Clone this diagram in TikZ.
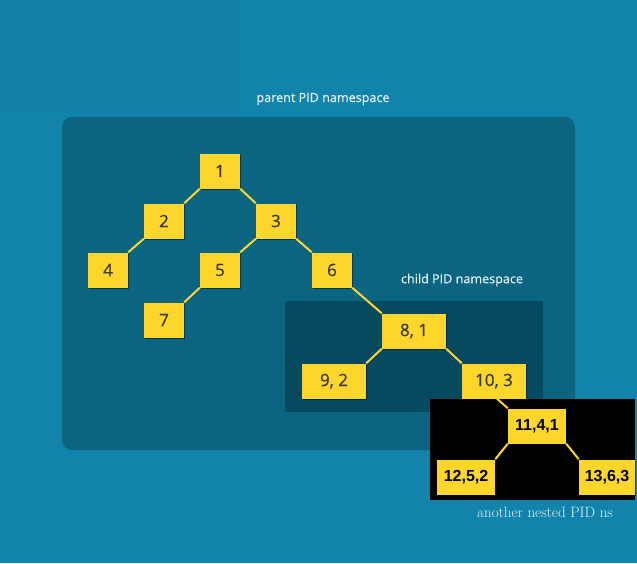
\documentclass[tikz,border=0pt]{standalone}
\usepackage{fontspec}
\usepackage{tikz}
\usetikzlibrary{calc}
\usetikzlibrary{shadows}

\newfontfamily\boxfont{Open Sans}[FakeBold=0.6]
\newfontfamily\labelfont{Open Sans}[FakeBold=0.3]
\newfontfamily\nsfont{Liberation Sans}

\definecolor{bgteal}{HTML}{1283AB}
\definecolor{bgpatch}{HTML}{1281A8}
\definecolor{outerns}{HTML}{0B6480}
\definecolor{childns}{HTML}{074A60}
\definecolor{pidyellow}{HTML}{FDD62B}
\definecolor{pidtext}{HTML}{3A3A3A}
\definecolor{labelwhite}{HTML}{E6F2F6}

\begin{document}
\begin{tikzpicture}[x=1pt,y=-1pt,inner sep=0pt,
  pid/.style={fill=pidyellow,minimum width=40pt,minimum height=35pt,text=pidtext,
    font=\boxfont\fontsize{17}{17}\selectfont,
    drop shadow={shadow xshift=1pt,shadow yshift=-1.5pt,opacity=.45,fill=black}},
  widepid/.style={pid,minimum width=64pt},
  nestpid/.style={pid,minimum width=58pt,text=black,font=\nsfont\bfseries\fontsize{16}{16}\selectfont},
  link/.style={draw=pidyellow,line width=2pt},
  nslabel/.style={text=labelwhite,font=\labelfont\fontsize{12.6}{12.6}\selectfont}]
\useasboundingbox (0,0) rectangle (637,563);
% namespaces
\fill[bgteal] (0,0) rectangle (637,563);
\fill[bgpatch] (0,0) rectangle (242,114);
\fill[outerns,rounded corners=10pt] (62,117) rectangle (575,450);
\fill[childns] (285,301) rectangle (543,412);
\fill[black] (430,399) rectangle (635,500);
\draw node [nslabel] (parentlbl) at (323,99) {parent PID namespace};
\draw node [nslabel] (childlbl) at (462,280) {child PID namespace};
\draw node [text=labelwhite,font=\fontsize{15}{15}\selectfont] (nestlbl) at (545,512) {another nested PID ns};
% parent tree
\draw node [pid] (n1) at (220,171) {1};
\draw node [pid] (n2) at (164,221) {2};
\draw node [pid] (n3) at (276,221) {3};
\draw node [pid] (n4) at (108,270) {4};
\draw node [pid] (n5) at (220,270) {5};
\draw node [pid] (n6) at (332,270) {6};
\draw node [pid] (n7) at (164,320) {7};
% child tree
\draw node [widepid] (n81) at (414,331) {8, 1};
\draw node [widepid] (n92) at (334,381) {9, 2};
\draw node [widepid] (n103) at (494,381) {10, 3};
% nested tree
\draw node [nestpid] (n1141) at (537,426) {11,4,1};
\draw node [nestpid] (n1252) at (466,477) {12,5,2};
\draw node [nestpid,minimum width=56pt] (n1363) at (607,477) {13,6,3};
\coordinate (tail) at ($(n103.south)+(3,0)$);
\draw [link] (n1.south west) -- (n2.north east);
\draw [link] (n1.south east) -- (n3.north west);
\draw [link] (n2.south west) -- (n4.north east);
\draw [link] (n3.south west) -- (n5.north east);
\draw [link] (n3.south east) -- (n6.north west);
\draw [link] (n5.south west) -- (n7.north east);
\draw [link] (n6.south east) -- (n81.north west);
\draw [link] (n81.south west) -- (n92.north east);
\draw [link] (n81.south east) -- (n103.north west);
\draw [link] (tail) -- (n1141.north west);
\draw [link] (n1141.south west) -- (n1252.north east);
\draw [link] (n1141.south east) -- (n1363.north west);
\end{tikzpicture}
\end{document}
